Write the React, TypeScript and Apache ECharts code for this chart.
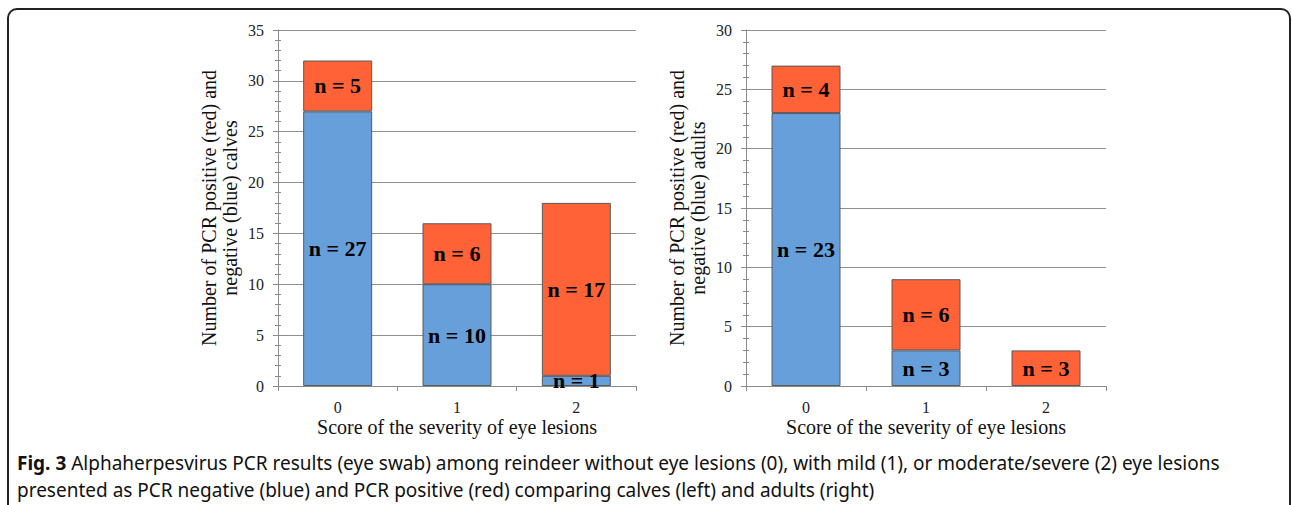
import React, { useEffect, useRef } from "react";
import * as echarts from "echarts";

const categories = ["0", "1", "2"];
const calvesNegative = [27, 10, 1];
const calvesPositive = [5, 6, 17];
const adultsNegative = [23, 3, 0];
const adultsPositive = [4, 6, 3];
const calvesTicks = { min: 0, max: 35, interval: 5 };
const adultsTicks = { min: 0, max: 30, interval: 5 };

const yNameCalves = "Number of PCR positive (red) and\nnegative (blue) calves";
const yNameAdults = "Number of PCR positive (red) and\nnegative (blue) adults";
const xName = "Score of the severity of eye lesions";
const captionLine1 =
  " Alphaherpesvirus PCR results (eye swab) among reindeer without eye lesions (0), with mild (1), or moderate/severe (2) eye lesions";
const captionLine2 =
  "presented as PCR negative (blue) and PCR positive (red) comparing calves (left) and adults (right)";

const BLUE = "#669FD9";
const RED = "#FF6236";
const SERIF = "'Liberation Serif', 'Times New Roman', serif";
const SANS = "'Noto Sans', sans-serif";

export default function App() {
  const ref = useRef<HTMLDivElement>(null);
  useEffect(() => {
    if (!ref.current) return;
    const chart = echarts.init(ref.current, undefined, { renderer: "svg" });

    const grids = [
      { left: 278, top: 30, width: 358, height: 356 },
      { left: 746, top: 30, width: 360, height: 356 },
    ];

    const xAxisBase = (gridIndex: number) => ({
      type: "category",
      gridIndex,
      data: categories,
      boundaryGap: true,
      axisLine: { lineStyle: { color: "#8a8a8a", width: 1 } },
      axisTick: { show: true, length: 5, lineStyle: { color: "#8a8a8a" } },
      axisLabel: { fontFamily: SERIF, fontSize: 16, color: "#222", margin: 13 },
      name: xName,
      nameLocation: "middle",
      nameGap: 31,
      nameMoveOverlap: false,
      nameTextStyle: { fontFamily: SERIF, fontSize: 20, color: "#111" },
    });

    const yAxisMain = (gridIndex: number, t: any, name: string) => ({
      type: "value",
      gridIndex,
      position: "left",
      min: t.min,
      max: t.max,
      interval: t.interval,
      axisLine: { show: true, lineStyle: { color: "#8a8a8a", width: 1 } },
      axisTick: { show: true, length: 5, lineStyle: { color: "#8a8a8a" } },
      axisLabel: { fontFamily: SERIF, fontSize: 16, color: "#222", margin: 14 },
      splitLine: { show: true, lineStyle: { color: "#8f8f8f", width: 1 } },
      minorTick: { show: true, splitNumber: 5, length: 3, lineStyle: { color: "#8a8a8a" } },
      name,
      nameLocation: "middle",
      nameGap: 38,
      nameTextStyle: { fontFamily: SERIF, fontSize: 20, color: "#111", lineHeight: 21 },
    });

    const yAxisInner = (gridIndex: number, t: any) => ({
      type: "value",
      gridIndex,
      position: "left",
      offset: 0,
      min: t.min,
      max: t.max,
      interval: t.interval,
      axisLine: { show: false },
      axisTick: { show: true, inside: true, length: 3, lineStyle: { color: "#8a8a8a" } },
      axisLabel: { show: false },
      splitLine: { show: false },
      minorTick: { show: true, splitNumber: 5, length: 3, lineStyle: { color: "#8a8a8a" } },
    });

    const toData = (arr: number[]) => arr.map((v) => (v === 0 ? "-" : v));

    const labelCfg = {
      show: true,
      position: "inside",
      fontFamily: SERIF,
      fontWeight: "bold",
      fontSize: 22,
      color: "#000",
      formatter: (p: any) => `n = ${p.value}`,
    };

    const barSeries = (
      name: string,
      data: number[],
      color: string,
      xi: number,
      yi: number,
      stack: string
    ) => ({
      type: "bar",
      name,
      xAxisIndex: xi,
      yAxisIndex: yi,
      stack,
      data: toData(data),
      barWidth: 69,
      itemStyle: { color, borderColor: "#5a5a5a", borderWidth: 1 },
      label: labelCfg,
    });

    chart.setOption({
      animation: false,
      backgroundColor: "#fff",
      grid: grids,
      xAxis: [xAxisBase(0), xAxisBase(1)],
      yAxis: [
        yAxisMain(0, calvesTicks, yNameCalves),
        yAxisMain(1, adultsTicks, yNameAdults),
        yAxisInner(0, calvesTicks),
        yAxisInner(1, adultsTicks),
      ],
      series: [
        barSeries("Calves negative", calvesNegative, BLUE, 0, 0, "calves"),
        barSeries("Calves positive", calvesPositive, RED, 0, 0, "calves"),
        barSeries("Adults negative", adultsNegative, BLUE, 1, 1, "adults"),
        barSeries("Adults positive", adultsPositive, RED, 1, 1, "adults"),
      ],
      graphic: [
        {
          type: "rect",
          shape: { x: 8, y: 9, width: 1282, height: 620, r: 9 },
          style: { fill: "none", stroke: "#222", lineWidth: 2 },
          silent: true,
        },
        {
          type: "text",
          x: 17,
          y: 463,
          style: {
            text: "{b|Fig. 3}{n|" + captionLine1 + "}",
            verticalAlign: "middle",
            rich: {
              b: { fontFamily: SANS, fontSize: 19, fontWeight: "bold", fill: "#111" },
              n: { fontFamily: SANS, fontSize: 19, fill: "#111" },
            },
          },
        },
        {
          type: "text",
          x: 17,
          y: 490,
          style: {
            text: captionLine2,
            verticalAlign: "middle",
            fontFamily: SANS,
            fontSize: 19,
            fill: "#111",
          },
        },
      ],
    });
    return () => chart.dispose();
  }, []);
  return (
    <div
      ref={ref}
      style={{ position: "absolute", left: 0, top: 0, width: 1292, height: 505 }}
    />
  );
}
